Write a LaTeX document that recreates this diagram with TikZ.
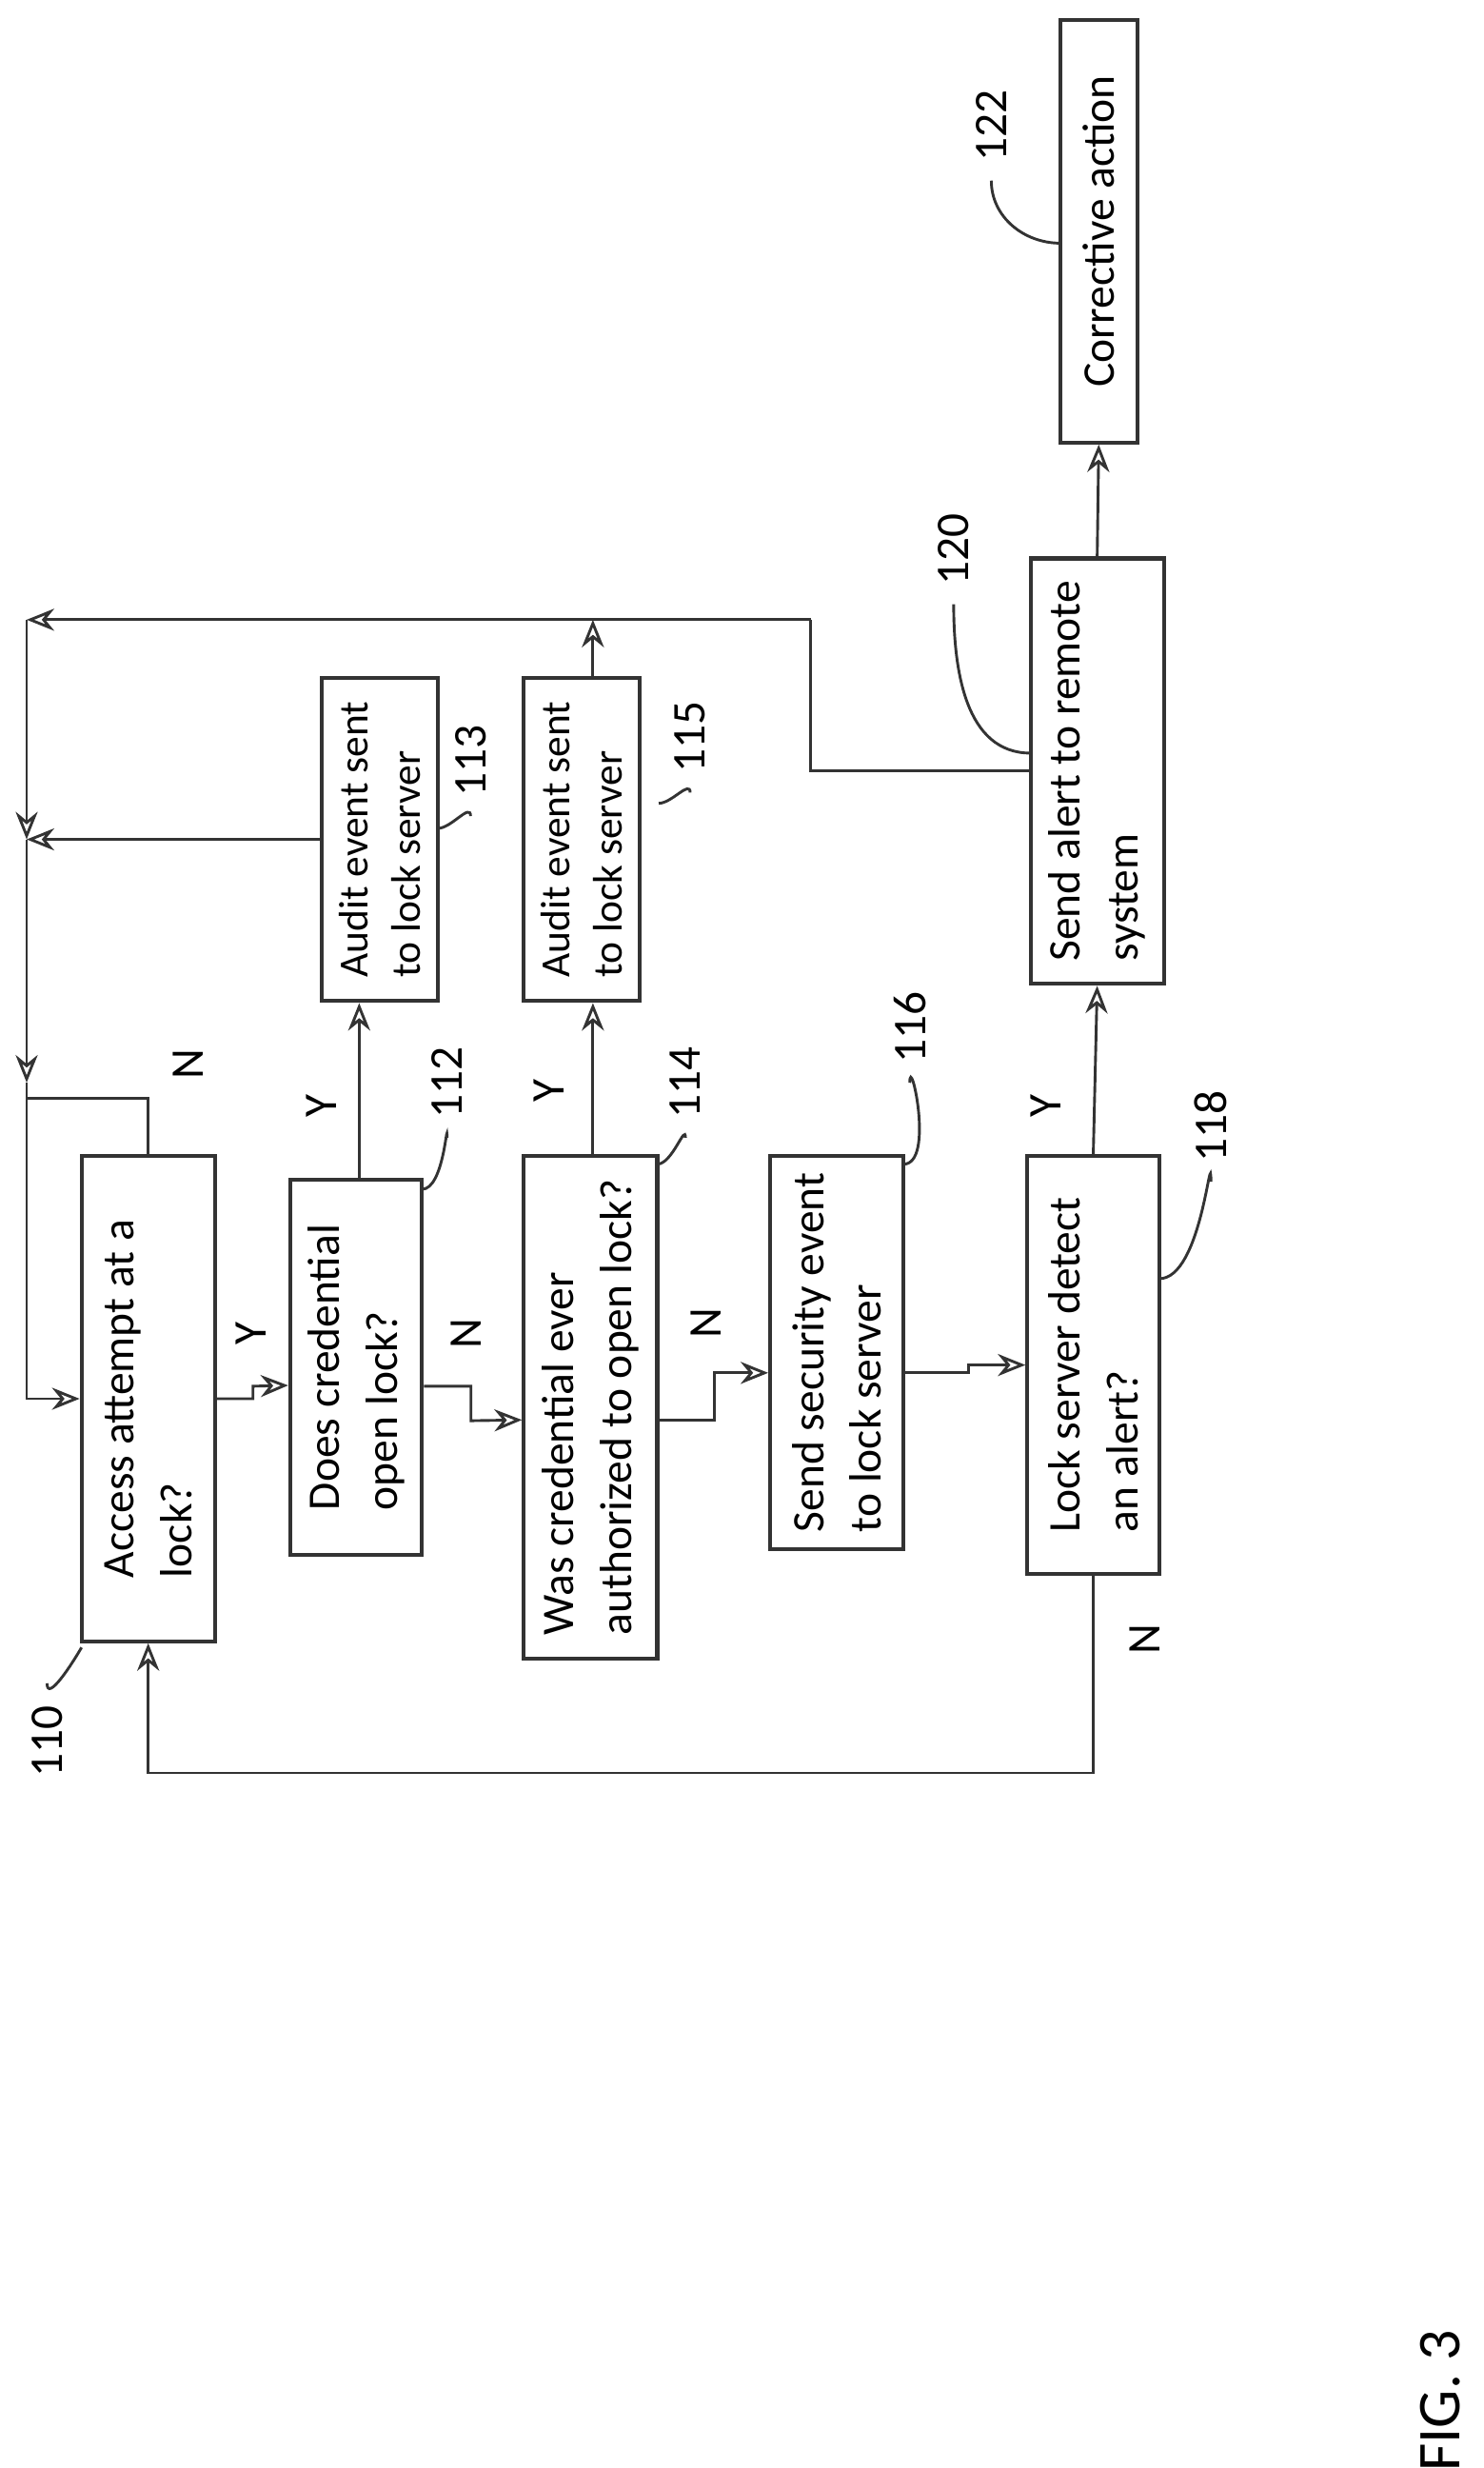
\documentclass[tikz,border=0pt]{standalone}
\usepackage{fontspec}
\setmainfont{Carlito}
\usetikzlibrary{arrows.meta}
\begin{document}
\begin{tikzpicture}[x=0.01cm,y=-0.01cm,
  ln/.style={draw=black!80,line width=0.5pt},
  arr/.style={ln,-{Stealth[open,length=5pt,width=4pt]}},
  box/.style={draw=black!80,line width=0.7pt,rotate=90,align=left,font=\fontsize{8.2}{10.5}\selectfont,inner sep=3pt},
  lab/.style={rotate=90,font=\fontsize{8.5}{10}\selectfont}]
\useasboundingbox (0,0) rectangle (946,1573);
\node[box,minimum width=3.09cm,minimum height=0.85cm] (a110) at (94.5,891.5) {Access attempt at a\\lock?};
\node[box,minimum width=2.39cm,minimum height=0.84cm] (a112) at (227,871.5) {Does credential\\open lock?};
\node[box,minimum width=3.20cm,minimum height=0.85cm] (a114) at (376.5,897) {Was credential ever\\authorized to open lock?};
\node[box,minimum width=2.42cm,minimum height=0.85cm] (a116) at (533.5,862) {Send security event\\to lock server};
\node[box,minimum width=2.66cm,minimum height=0.84cm] (a118) at (697,870) {Lock server detect\\an alert?};
\node[box,minimum width=2.06cm,minimum height=0.74cm,font=\fontsize{7.5}{9.5}\selectfont] (a113) at (242,535) {Audit event sent\\to lock server};
\node[box,minimum width=2.06cm,minimum height=0.74cm,font=\fontsize{7.5}{9.5}\selectfont] (a115) at (371,535) {Audit event sent\\to lock server};
\node[box,minimum width=2.71cm,minimum height=0.85cm] (a120) at (699.5,491.5) {Send alert to remote\\system};
\node[box,minimum width=2.69cm,minimum height=0.49cm] (a122) at (700.5,147.5) {Corrective action};
% main flow
\draw[arr] (a110.south) -- ++(23,0) -- ++(0,-8) -- (a112.north |- 0,883);
\draw[arr] (a112.south) ++(0,12) -- ++(30,0) -- ++(0,22) -- (a114.north |- 0,905);
\draw[arr] (a114.south) ++(0,8) -- ++(35,0) -- ++(0,-30) -- (a116.north |- 0,875);
\draw[arr] (a116.south) ++(0,13) -- ++(40,0) -- ++(0,-5) -- (a118.north |- 0,870);
\draw[arr] (a112.east -| 229,0) -- (a113.west -| 229,0);
\draw[arr] (a114.east -| 378,0) -- (a115.west -| 378,0);
\draw[arr] (a118.east) -- (a120.west);
\draw[arr] (a120.east) -- (a122.west);
% N loop from 118
\draw[arr] (a118.west) -- (697,1130) -| (a110.west);
% feedback lines
\coordinate (t1) at (17,690);
\coordinate (t2) at (17,535);
\coordinate (t3) at (17,395);
\draw[ln] (a110.east) |- (17,700);
\draw[arr] (a113.north) -- (t2);
\draw[arr] (a115.east -| 378,0) -- (378,395);
\draw[ln] (a120.north) -| (517,395);
\draw[arr] (517,395) -- (t3);
\draw[arr] (t3) -- (t2);
\draw[arr] (t2) -- (t1);
\draw[arr] (t1) |- (a110.north);
% Y/N labels
\node[lab] at (160,850) {Y};
\node[lab] at (297,850) {N};
\node[lab] at (450,843) {N};
\node[lab] at (205,705) {Y};
\node[lab] at (350,695) {Y};
\node[lab] at (667,705) {Y};
\node[lab] at (120,678) {N};
\node[lab] at (730,1045) {N};
% reference numbers
\node[lab] (r110) at (30,1110) {110};
\draw[ln] (r110.east) ++(0,-2) to[out=-90,in=-120] (52,1050);
\node[lab] (r112) at (285,690) {112};
\draw[ln] (r112.west) to[out=90,in=0] (269,758);
\node[lab] (r113) at (300,485) {113};
\draw[ln] (r113.west) to[out=90,in=0] (279,528);
\node[lab] (r114) at (437,690) {114};
\draw[ln] (r114.west) to[out=90,in=0] (419,742);
\node[lab] (r115) at (440,470) {115};
\draw[ln] (r115.west) to[out=90,in=0] (420,512);
\node[lab] (r116) at (580,655) {116};
\draw[ln] (r116.west) to[out=90,in=0] (576,742);
\node[lab] (r118) at (772,718) {118};
\draw[ln] (r118.west) to[out=90,in=0] (739,815);
\node[lab] (r120) at (608,350) {120};
\draw[ln] (r120.west) to[out=-90,in=180] (657,480);
\node[lab] (r122) at (632,80) {122};
\draw[ln] (r122.west) to[out=-90,in=180] (676,155);
\node[lab,font=\fontsize{11}{13}\selectfont] (fig) at (918,1530) {FIG. 3};
\end{tikzpicture}
\end{document}
